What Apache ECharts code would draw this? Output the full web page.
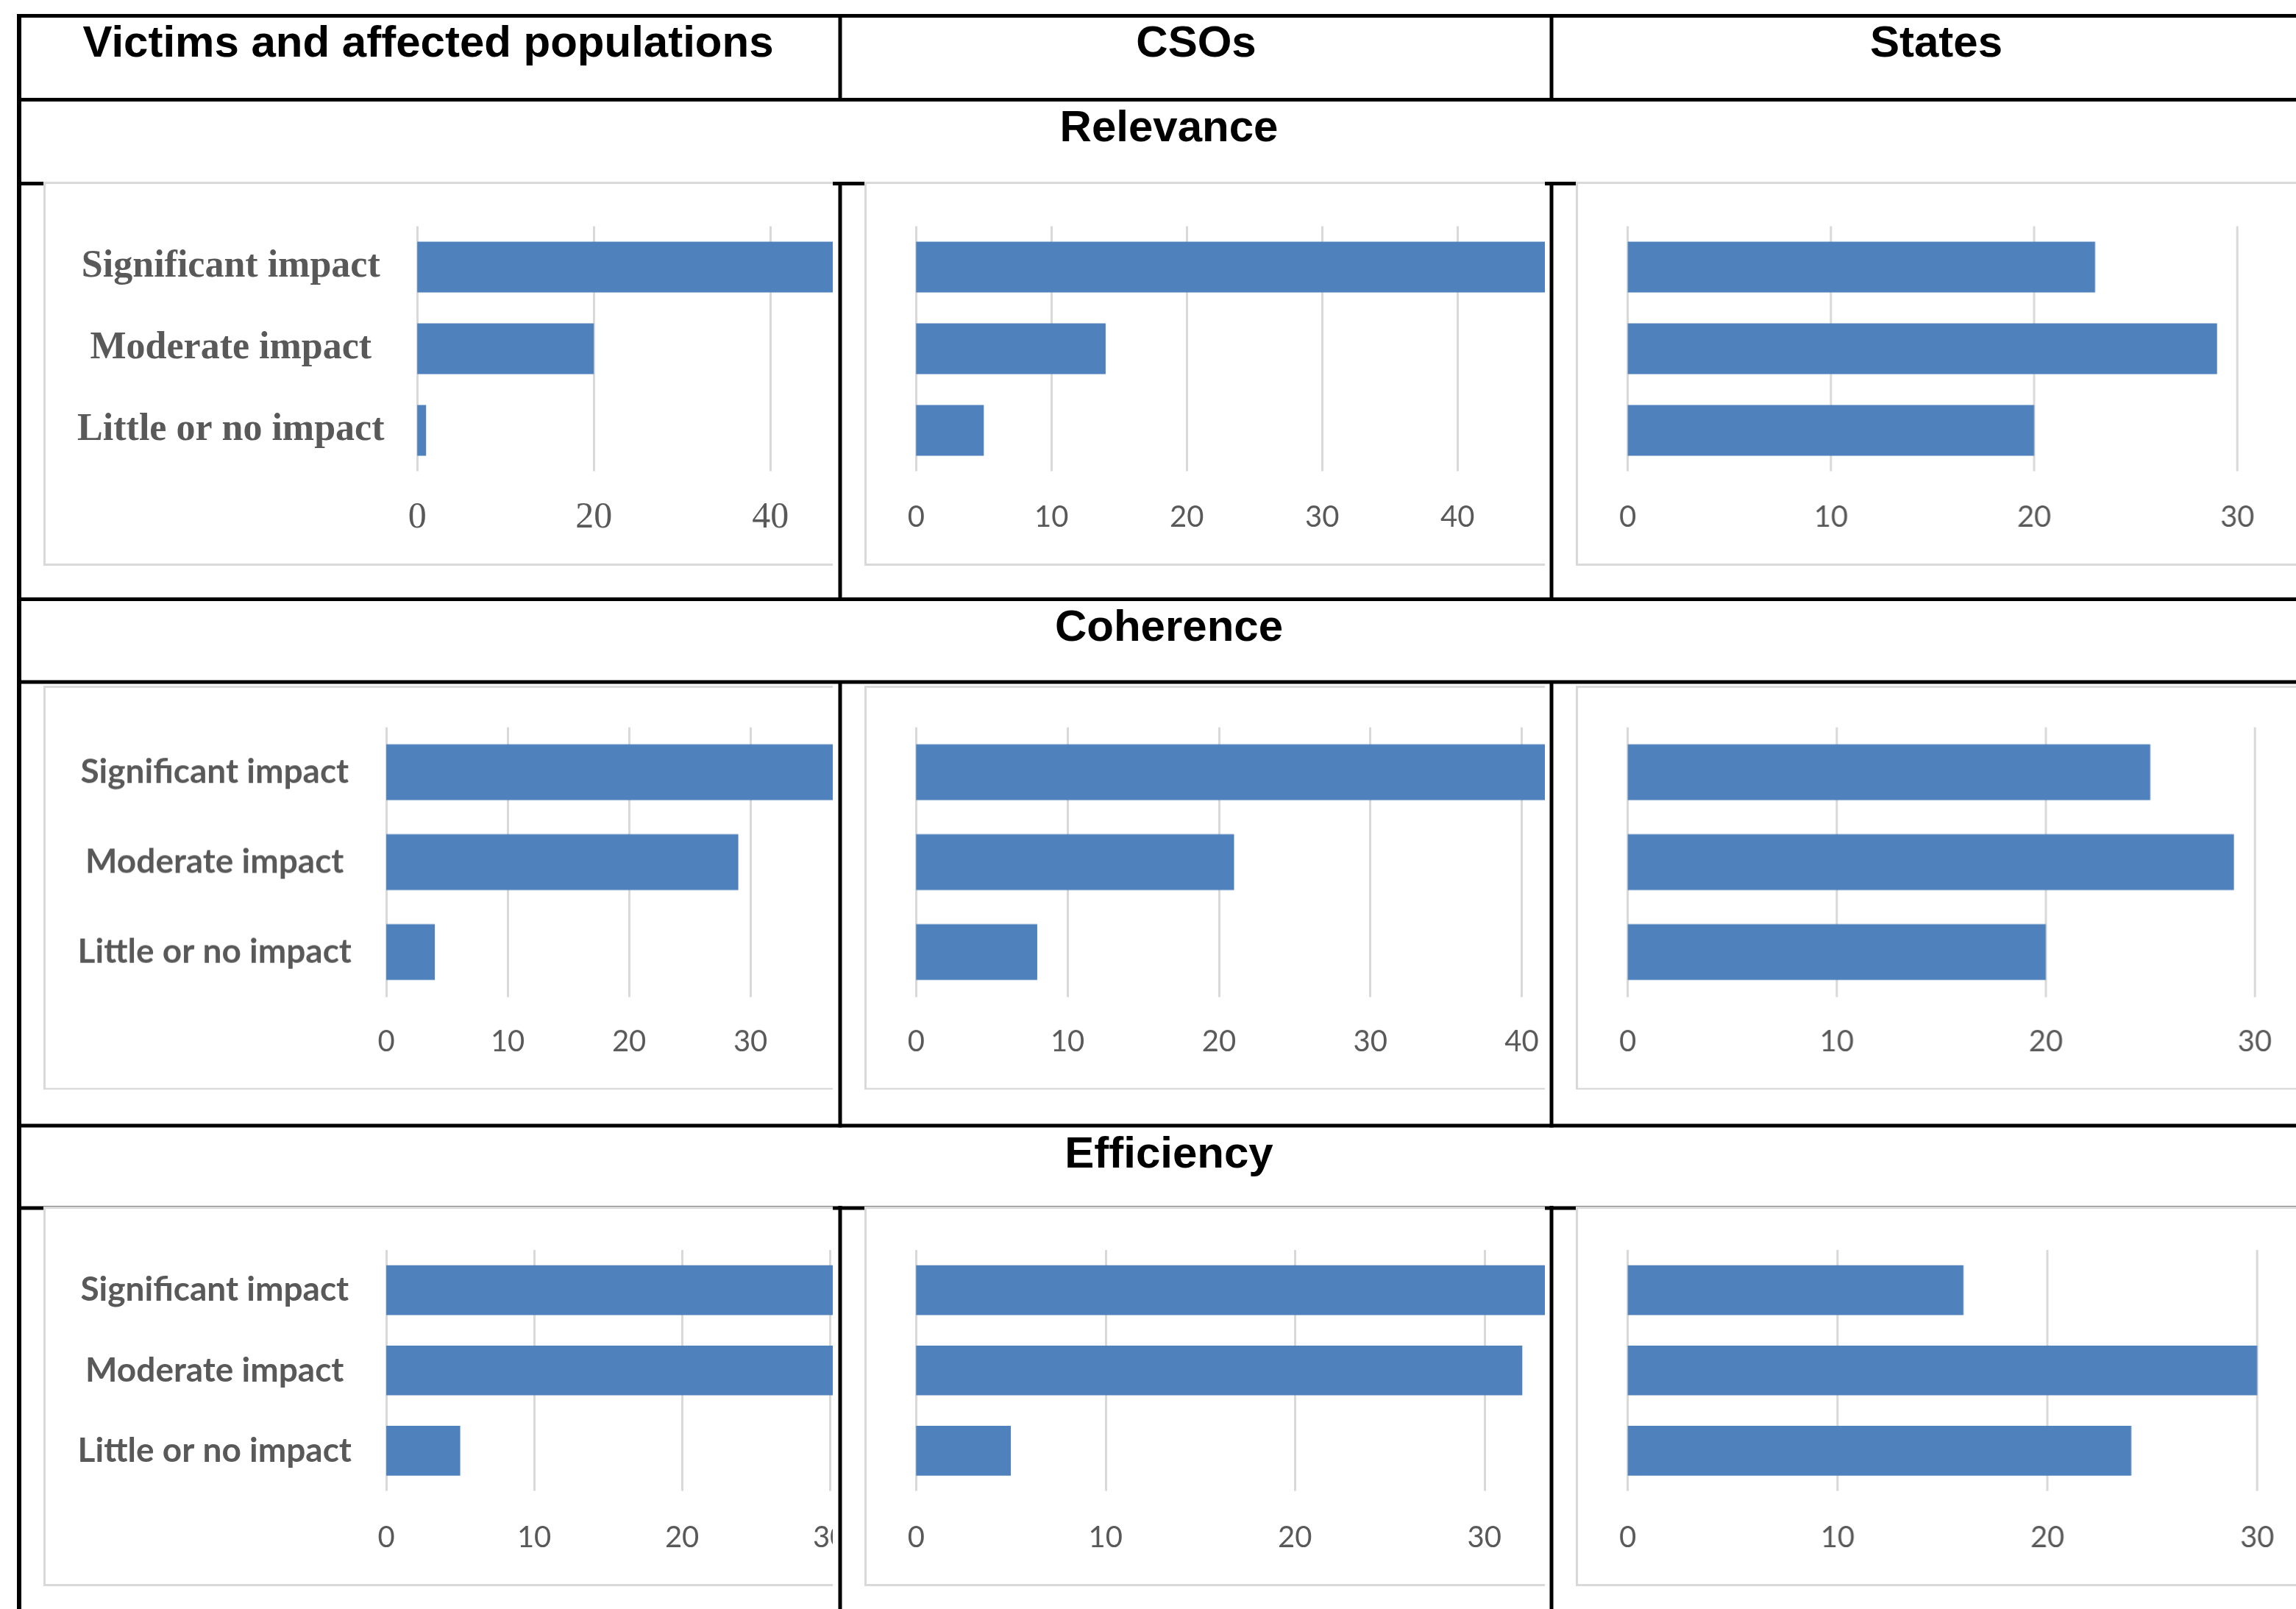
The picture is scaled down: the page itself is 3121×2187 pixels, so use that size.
<!DOCTYPE html>
<html>
<head>
<meta charset="utf-8">
<title>Perceived impact by stakeholder group</title>
<script src="https://cdn.jsdelivr.net/npm/echarts@6/dist/echarts.min.js"></script>
<style>
  html, body { margin: 0; padding: 0; background: #fff; overflow: hidden; }
  #page { position: relative; width: 3121px; height: 2187px; background: #fff; }
  #table { position: absolute; left: 0; top: 0; width: 3121px; height: 2187px; }
  .cell { position: absolute; overflow: hidden; background: #fff; }
  .cell > div { position: absolute; left: 0; top: 0; }
</style>
</head>
<body>
<div id="page"><div id="table"></div></div>
<script>
// ---- Data ---------------------------------------------------------------
const categories = ['Significant impact', 'Moderate impact', 'Little or no impact'];
const groups = ['Victims and affected populations', 'CSOs', 'States'];
const criteria = ['Relevance', 'Coherence', 'Efficiency'];

const relevanceVictims = [50, 20, 1];
const relevanceCSOs = [48, 14, 5];
const relevanceStates = [23, 29, 20];

const coherenceVictims = [38, 29, 4];
const coherenceCSOs = [43, 21, 8];
const coherenceStates = [25, 29, 20];

const efficiencyVictims = [33, 31, 5];
const efficiencyCSOs = [34, 32, 5];
const efficiencyStates = [16, 30, 24];

// value-axis ranges per panel (rows: criteria, columns: groups)
const axisMaxima = [[60, 50, 30], [40, 50, 30], [40, 40, 30]];
const axisSteps = [[20, 10, 10], [10, 10, 10], [10, 10, 10]];

const panelValues = [
  [relevanceVictims, relevanceCSOs, relevanceStates],
  [coherenceVictims, coherenceCSOs, coherenceStates],
  [efficiencyVictims, efficiencyCSOs, efficiencyStates]
];

// ---- Layout -------------------------------------------------------------
const W = 3121, H = 2187;
const BAR = '#4f81bd', GRID = '#d9d9d9', LABEL = '#595959';
const HEAD_FONT = 'bold 60px "Liberation Sans", Arial, sans-serif';
const HEAD_Y = 60.5;

const rowsLayout = [
  { frameTop: 248,   frameBottom: 767,    plotTop: 307,    plotBottom: 640,    tickY: 703,    titleY: 175 },
  { frameTop: 933.6, frameBottom: 1479.3, plotTop: 988.5,  plotBottom: 1354.5, tickY: 1415,   titleY: 854 },
  { frameTop: 1641,  frameBottom: 2154,   plotTop: 1698.5, plotBottom: 2026,   tickY: 2089.6, titleY: 1570 }
];
const colsLayout = [
  { frameLeft: 60.7,   clipRight: 1132.5, headX: 582 },
  { frameLeft: 1176.4, clipRight: 2100,   headX: 1626 },
  { frameLeft: 2143.6, clipRight: W,      headX: 2632 }
];
const zeroX = [[567.4, 1245.2, 2212.7], [525.3, 1245.2, 2212.7], [525.3, 1245.2, 2212.7]];
const unitPx = [[12.0, 18.4, 27.6], [16.5, 20.58, 28.39], [20.1, 25.75, 28.5]];
const categoryCenterX = [314, 292, 292];

// panel fonts: the first victims panel uses a serif face, the rest a humanist sans
function panelFonts(r, c) {
  if (r === 0 && c === 0) {
    return { cat: { family: '"Liberation Serif", "Times New Roman", serif', size: 52, weight: 'bold' },
             tick: { family: '"Liberation Serif", "Times New Roman", serif', size: 50, weight: 'normal' } };
  }
  return { cat: { family: 'Lato, "Open Sans", sans-serif', size: 46, weight: 'bold' },
           tick: { family: 'Lato, "Open Sans", sans-serif', size: 40, weight: 'normal' } };
}

// ---- Table (borders, header and section titles) -------------------------
const T = 5;
const hLines = [21.5, 135.5, 249.5, 814.5, 927, 1530, 1642];
const dividerX = [1142, 2109];
const dividerSpans = [[19, 138], [247, 817], [925, 1532.5], [1639, H]];

const tableGraphics = [];
hLines.forEach(y => tableGraphics.push({
  type: 'rect', shape: { x: 24, y: y - T / 2, width: W, height: T }, style: { fill: '#000' }, silent: true
}));
tableGraphics.push({
  type: 'rect', shape: { x: 23, y: 19, width: 6, height: H }, style: { fill: '#000' }, silent: true
});
dividerX.forEach(x => dividerSpans.forEach(([y0, y1]) => tableGraphics.push({
  type: 'rect', shape: { x: x - 2.5, y: y0, width: 5, height: y1 - y0 }, style: { fill: '#000' }, silent: true
})));
groups.forEach((g, c) => tableGraphics.push({
  type: 'text', x: colsLayout[c].headX, y: HEAD_Y, silent: true,
  style: { text: g, font: HEAD_FONT, fill: '#000', align: 'center', verticalAlign: 'middle',
           textAlign: 'center', textVerticalAlign: 'middle' }
}));
criteria.forEach((name, r) => tableGraphics.push({
  type: 'text', x: 1589, y: rowsLayout[r].titleY, silent: true,
  style: { text: name, font: HEAD_FONT, fill: '#000', align: 'center', verticalAlign: 'middle',
           textAlign: 'center', textVerticalAlign: 'middle' }
}));

const tableChart = echarts.init(document.getElementById('table'), null, { renderer: 'canvas', width: W, height: H });
tableChart.setOption({ animation: false, backgroundColor: '#fff', graphic: { elements: tableGraphics } });

// ---- Bar chart panels ---------------------------------------------------
const page = document.getElementById('page');
for (let r = 0; r < 3; r++) {
  for (let c = 0; c < 3; c++) {
    const row = rowsLayout[r], col = colsLayout[c];
    const left = col.frameLeft - 1.5;
    const top = row.frameTop - 1.5;
    const width = col.clipRight - left;
    const height = row.frameBottom - row.frameTop + 3;
    const innerWidth = width + 400;

    const cell = document.createElement('div');
    cell.className = 'cell';
    cell.style.left = left + 'px';
    cell.style.top = top + 'px';
    cell.style.width = width + 'px';
    cell.style.height = height + 'px';
    const inner = document.createElement('div');
    inner.style.width = innerWidth + 'px';
    inner.style.height = height + 'px';
    cell.appendChild(inner);
    page.appendChild(cell);

    const fonts = panelFonts(r, c);
    const max = axisMaxima[r][c];
    const gridLeft = zeroX[r][c] - left;
    const catCenter = c === 0 ? categoryCenterX[r] : zeroX[r][c] - 200;

    const chart = echarts.init(inner, null, { renderer: 'canvas', width: innerWidth, height: height });
    chart.setOption({
      animation: false,
      backgroundColor: '#fff',
      graphic: { elements: [{
        type: 'rect', silent: true, z: -10,
        shape: { x: 1.5, y: 1.5, width: innerWidth, height: height - 3 },
        style: { fill: 'none', stroke: GRID, lineWidth: 3 }
      }] },
      grid: {
        left: gridLeft,
        top: row.plotTop - top,
        width: unitPx[r][c] * max,
        height: row.plotBottom - row.plotTop,
        containLabel: false,
        outerBoundsMode: 'none'
      },
      xAxis: {
        type: 'value', min: 0, max: max, interval: axisSteps[r][c],
        axisLine: { show: false }, axisTick: { show: false },
        splitLine: { show: true, lineStyle: { color: GRID, width: 3 } },
        axisLabel: {
          color: LABEL, fontFamily: fonts.tick.family, fontSize: fonts.tick.size,
          fontWeight: fonts.tick.weight,
          margin: row.tickY - row.plotBottom - fonts.tick.size / 2
        }
      },
      yAxis: {
        type: 'category', inverse: true, data: categories,
        axisLine: { show: false }, axisTick: { show: false }, splitLine: { show: false },
        axisLabel: {
          show: c === 0,
          color: LABEL, fontFamily: fonts.cat.family, fontSize: fonts.cat.size,
          fontWeight: fonts.cat.weight, align: 'center',
          margin: zeroX[r][c] - catCenter
        }
      },
      series: [{
        type: 'bar', data: panelValues[r][c], barCategoryGap: '38%',
        itemStyle: { color: BAR }, silent: true
      }]
    });
  }
}
</script>
</body>
</html>
